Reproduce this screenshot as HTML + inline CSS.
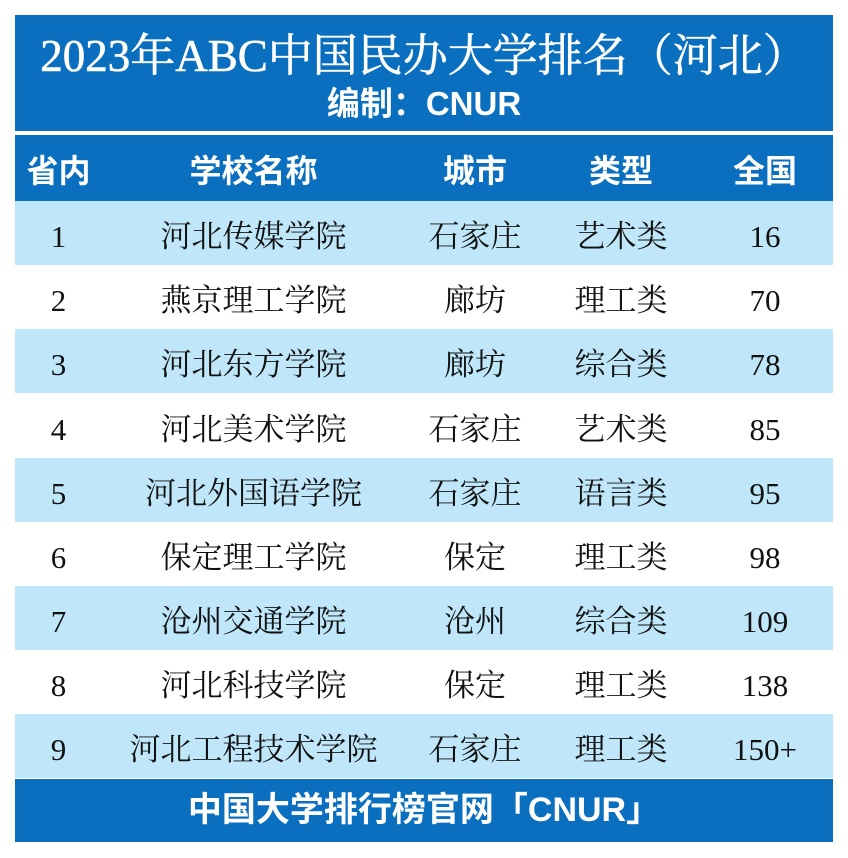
<!DOCTYPE html>
<html><head><meta charset="utf-8"><style>
body{margin:0;width:848px;height:858px;background:#fff;position:relative;overflow:hidden}
.t{position:absolute;left:15px;width:818px;background:#0a6fbf;color:#fff}
.c{position:absolute;text-align:center;white-space:nowrap}
.row{position:absolute;left:15px;width:818px;height:64px;font-family:"Liberation Serif","Noto Serif CJK SC",serif;font-size:31px;color:#111}
.row div{position:absolute;top:0;height:64px;line-height:72px;text-align:center;white-space:nowrap}
.a{left:0;width:87px}.b{left:87px;width:303px}.d{left:390px;width:140px}.e{left:530px;width:152px}.f{left:682px;width:136px}
</style></head><body>
<div class="t" style="top:15px;height:116px">
<div class="c" style="left:0;width:818px;top:14px;font-family:'Liberation Serif','Noto Serif CJK SC',serif;font-size:45px;line-height:54px;-webkit-text-stroke:0.6px #fff">2023年ABC中国民办大学排名（河北）</div>
<div class="c" style="left:0;width:818px;top:69px;font-family:'Liberation Sans','Noto Sans CJK SC',sans-serif;font-size:33px;line-height:40px;font-weight:bold">编制：CNUR</div>
</div>
<div class="row" style="top:135px;height:66px;background:#0a6fbf;color:#fff;font-family:'Liberation Sans','Noto Sans CJK SC',sans-serif;font-weight:bold;font-size:32px">
<div class="a">省内</div><div class="b">学校名称</div><div class="d">城市</div><div class="e">类型</div><div class="f">全国</div></div>
<div class="row" style="top:201px;background:#bfe7f9"><div class="a">1</div><div class="b">河北传媒学院</div><div class="d">石家庄</div><div class="e">艺术类</div><div class="f">16</div></div>
<div class="row" style="top:265px"><div class="a">2</div><div class="b">燕京理工学院</div><div class="d">廊坊</div><div class="e">理工类</div><div class="f">70</div></div>
<div class="row" style="top:329px;background:#bfe7f9"><div class="a">3</div><div class="b">河北东方学院</div><div class="d">廊坊</div><div class="e">综合类</div><div class="f">78</div></div>
<div class="row" style="top:394px"><div class="a">4</div><div class="b">河北美术学院</div><div class="d">石家庄</div><div class="e">艺术类</div><div class="f">85</div></div>
<div class="row" style="top:458px;background:#bfe7f9"><div class="a">5</div><div class="b">河北外国语学院</div><div class="d">石家庄</div><div class="e">语言类</div><div class="f">95</div></div>
<div class="row" style="top:522px"><div class="a">6</div><div class="b">保定理工学院</div><div class="d">保定</div><div class="e">理工类</div><div class="f">98</div></div>
<div class="row" style="top:586px;background:#bfe7f9"><div class="a">7</div><div class="b">沧州交通学院</div><div class="d">沧州</div><div class="e">综合类</div><div class="f">109</div></div>
<div class="row" style="top:650px"><div class="a">8</div><div class="b">河北科技学院</div><div class="d">保定</div><div class="e">理工类</div><div class="f">138</div></div>
<div class="row" style="top:714px;background:#bfe7f9"><div class="a">9</div><div class="b">河北工程技术学院</div><div class="d">石家庄</div><div class="e">理工类</div><div class="f">150+</div></div>
<div class="t" style="top:779px;height:63px">
<div class="c" style="left:0;width:818px;top:0;line-height:63px;font-family:'Liberation Sans','Noto Sans CJK SC',sans-serif;font-size:34px;font-weight:bold">中国大学排行榜官网「CNUR」</div></div>
</body></html>
